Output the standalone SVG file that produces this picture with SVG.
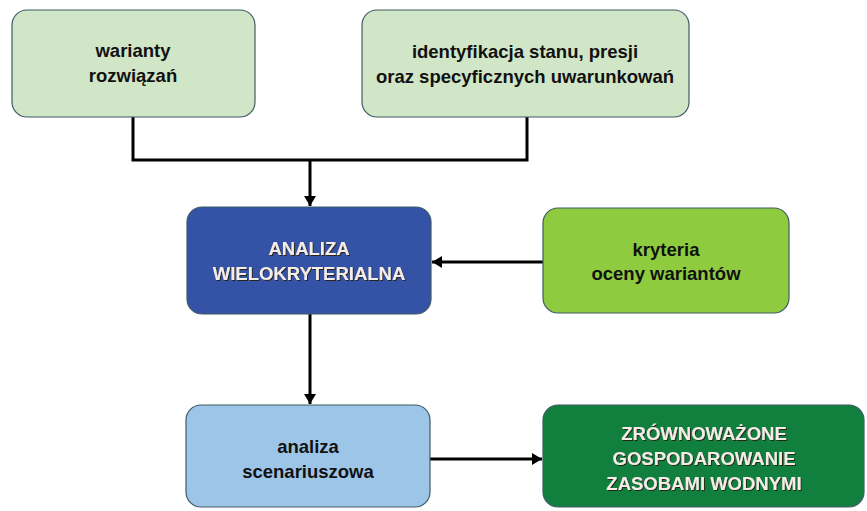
<svg xmlns="http://www.w3.org/2000/svg" width="867" height="511" viewBox="0 0 867 511">
<defs>
<marker id="ah" markerWidth="10" markerHeight="12" refX="10" refY="6" orient="auto" markerUnits="userSpaceOnUse">
<path d="M0,0 L10,6 L0,12 Z" fill="#000"/>
</marker>
<filter id="sh" x="-10%" y="-30%" width="120%" height="160%">
<feDropShadow dx="1" dy="1" stdDeviation="0.6" flood-color="#2a1a10" flood-opacity="0.9"/>
</filter>
</defs>
<style>
.box{stroke:#3f5a66;stroke-width:1.2}
.t{font-family:"Liberation Sans",Arial,sans-serif;font-weight:bold;font-size:18.5px;text-anchor:middle;fill:#111}
.w{fill:#f4ece6;filter:url(#sh)}
.c{fill:none;stroke:#000;stroke-width:3}
</style>
<rect width="867" height="511" fill="#fff"/>
<g id="connectors">
<polyline class="c" points="133,117 133,160 527,160 527,117"/>
<line class="c" x1="310" y1="160" x2="310" y2="206" marker-end="url(#ah)"/>
<line class="c" x1="543" y1="262" x2="432" y2="262" marker-end="url(#ah)"/>
<line class="c" x1="310" y1="314" x2="310" y2="404" marker-end="url(#ah)"/>
<line class="c" x1="430" y1="459" x2="542" y2="459" marker-end="url(#ah)"/>
</g>
<g id="warianty">
<rect class="box" x="12" y="10" width="243" height="107" rx="15" fill="#d1e6c6"/>
<text class="t" x="133" y="57">warianty</text>
<text class="t" x="133" y="82">rozwiązań</text>
</g>
<g id="identyfikacja">
<rect class="box" x="362" y="10" width="327" height="107" rx="15" fill="#d1e6c6"/>
<text class="t" x="525" y="58">identyfikacja stanu, presji</text>
<text class="t" x="525" y="83">oraz specyficznych uwarunkowań</text>
</g>
<g id="analiza-wielokryterialna">
<rect class="box" x="187" y="207" width="244" height="107" rx="15" fill="#3452a6"/>
<text class="t w" x="309" y="255">ANALIZA</text>
<text class="t w" x="309" y="280">WIELOKRYTERIALNA</text>
</g>
<g id="kryteria">
<rect class="box" x="543" y="208" width="246" height="105" rx="15" fill="#8fcb3f"/>
<text class="t" x="666" y="256">kryteria</text>
<text class="t" x="666" y="280">oceny wariantów</text>
</g>
<g id="analiza-scenariuszowa">
<rect class="box" x="186" y="405" width="244" height="102" rx="15" fill="#9dc5e8"/>
<text class="t" x="308" y="453">analiza</text>
<text class="t" x="308" y="478">scenariuszowa</text>
</g>
<g id="zrownowazone">
<rect class="box" x="543" y="405" width="321" height="102" rx="15" fill="#11803f"/>
<text class="t w" x="704" y="440">ZRÓWNOWAŻONE</text>
<text class="t w" x="704" y="465">GOSPODAROWANIE</text>
<text class="t w" x="704" y="490">ZASOBAMI WODNYMI</text>
</g>
</svg>
